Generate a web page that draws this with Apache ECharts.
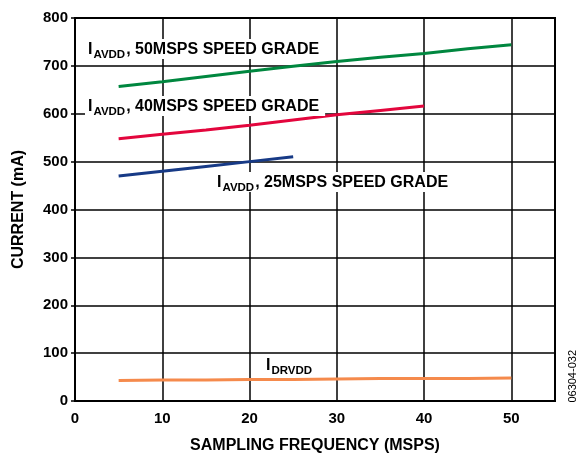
<!DOCTYPE html>
<html>
<head>
<meta charset="utf-8">
<script src="https://cdn.jsdelivr.net/npm/echarts@6/dist/echarts.min.js"></script>
<style>
  html, body { margin: 0; padding: 0; background: #fff; }
  #chart { width: 576px; height: 454px; }
</style>
</head>
<body>
<div id="chart"></div>
<script>
// sampling frequency (MSPS)
const freq = [5, 10, 15, 20, 25, 30, 35, 40, 45, 50]
// current (mA)
const avdd50 = [657, 667, 678, 689, 699, 709, 718, 726, 736, 744]
const avdd40 = [548, 557, 566, 576, 587, 598, 607, 616]
const avdd25 = [470, 480, 490, 500, 510]
const drvdd = [43, 44, 44, 45, 45, 46, 47, 47, 47, 48]

const xTicks = [0, 10, 20, 30, 40, 50]
const yTicks = [0, 100, 200, 300, 400, 500, 600, 700, 800]

const FONT = 'Liberation Sans, Arial, Helvetica, sans-serif'

function pairs(vals) {
  return vals.map((v, i) => [freq[i], v])
}

function seriesLine(name, vals, color) {
  return {
    name: name,
    type: 'line',
    data: pairs(vals),
    showSymbol: false,
    smooth: false,
    lineStyle: { width: 3, color: color },
    itemStyle: { color: color },
    z: 5,
  }
}

// I with a subscript, then the rest of the text
function label(x, y, sub, rest, bg) {
  return {
    type: 'text',
    left: x,
    top: y,
    z: 10,
    style: {
      text: '{m|I}{s|' + sub + '}' + (rest ? '{m|' + rest + '}' : ''),
      backgroundColor: bg ? '#fff' : 'transparent',
      padding: bg ? [3, 6, 1, 3] : 0,
      rich: {
        m: { fontFamily: FONT, fontWeight: 'bold', fontSize: 16, fill: '#000', verticalAlign: 'top', lineHeight: 16 },
        s: { fontFamily: FONT, fontWeight: 'bold', fontSize: 11.5, fill: '#000', verticalAlign: 'top', lineHeight: 12, padding: [7, 1, 0, 1] },
      },
    },
  }
}

const chart = echarts.init(document.getElementById('chart'))
chart.setOption({
  animation: false,
  backgroundColor: '#fff',
  grid: {
    left: 75, right: 21, top: 18, bottom: 53,
    outerBoundsMode: 'none',
    containLabel: false,
    show: true, borderColor: '#000', borderWidth: 2, backgroundColor: 'transparent',
  },
  xAxis: {
    type: 'value',
    min: 0,
    max: 55,
    interval: 10,
    name: 'SAMPLING FREQUENCY (MSPS)',
    nameLocation: 'middle',
    nameGap: 37,
    nameTextStyle: { fontFamily: FONT, fontWeight: 'bold', fontSize: 16, color: '#000' },
    axisLine: { show: true, lineStyle: { color: '#000', width: 2 } },
    axisTick: { show: false },
    axisLabel: {
      showMaxLabel: false,
      fontFamily: FONT, fontWeight: 'bold', fontSize: 15, color: '#000', margin: 10,
      formatter: (v) => (xTicks.includes(v) ? String(v) : ''),
    },
    splitLine: { show: true, lineStyle: { color: '#000', width: 1.5 } },
  },
  yAxis: {
    type: 'value',
    min: 0,
    max: 800,
    interval: 100,
    name: 'CURRENT (mA)',
    nameLocation: 'middle',
    nameGap: 48,
    nameTextStyle: { fontFamily: FONT, fontWeight: 'bold', fontSize: 16, color: '#000' },
    axisLine: { show: true, lineStyle: { color: '#000', width: 2 } },
    axisTick: { show: true, length: 4, lineStyle: { color: '#000', width: 1.5 } },
    axisLabel: {
      fontFamily: FONT, fontWeight: 'bold', fontSize: 15, color: '#000', margin: 7,
      formatter: (v) => (yTicks.includes(v) ? String(v) : ''),
    },
    splitLine: { show: true, lineStyle: { color: '#000', width: 1.5 } },
  },
  series: [
    seriesLine('IAVDD 50MSPS', avdd50, '#00873f'),
    seriesLine('IAVDD 40MSPS', avdd40, '#e3063d'),
    seriesLine('IAVDD 25MSPS', avdd25, '#173a86'),
    seriesLine('IDRVDD', drvdd, '#f58a4c'),
  ],
  graphic: [
    label(85, 39, 'AVDD', ', 50MSPS SPEED GRADE', true),
    label(85, 96, 'AVDD', ', 40MSPS SPEED GRADE', true),
    label(214, 172, 'AVDD', ', 25MSPS SPEED GRADE', true),
    label(266, 358, 'DRVDD', '', false),
    {
      type: 'text',
      left: 567,
      top: 350,
      rotation: Math.PI / 2,
      style: { text: '06304-032', fontFamily: FONT, fontSize: 11, fill: '#000' },
    },
  ],
})
</script>
</body>
</html>
